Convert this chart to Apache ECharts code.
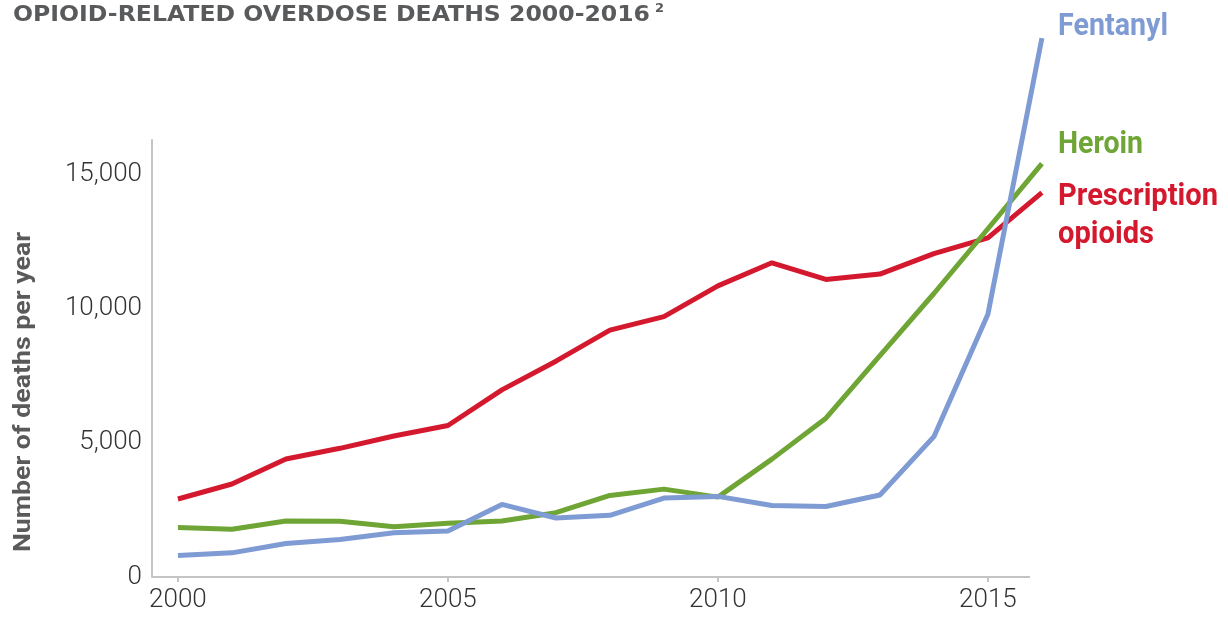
<!DOCTYPE html>
<html>
<head>
<meta charset="utf-8">
<script src="https://cdn.jsdelivr.net/npm/echarts@6/dist/echarts.min.js"></script>
<style>
html,body{margin:0;padding:0;background:#fff;}
#c{width:1228px;height:618px;}
</style>
</head>
<body>
<div id="c"></div>
<script>
var years = [2000,2001,2002,2003,2004,2005,2006,2007,2008,2009,2010,2011,2012,2013,2014,2015,2016];
var prescription = [2910,3470,4400,4800,5260,5650,6980,8050,9210,9710,10860,11720,11100,11300,12060,12650,14340];
var heroin = [1842,1779,2089,2080,1878,2009,2088,2399,3041,3278,2980,4397,5925,8257,10574,12989,15420];
var fentanyl = [800,900,1250,1400,1650,1720,2707,2200,2300,2946,3007,2666,2628,3060,5235,9800,20100];
var xTicks = [2000,2005,2010,2015];
var yTicks = [0,5000,10000,15000];
var seriesNames = ['Prescription opioids','Heroin','Fentanyl'];
var xAxisStart = 1999.52, xAxisEnd = 2015.78;

function pairs(vals){ return years.map(function(y,i){ return [y, vals[i]]; }); }

function measure(text, font){
  var cv = document.createElement('canvas').getContext('2d');
  cv.font = font; return cv.measureText(text).width;
}

var chart = echarts.init(document.getElementById('c'));
var titleFont = 'bold 21px "DejaVu Sans"';
var titleText = 'OPIOID-RELATED OVERDOSE DEATHS 2000-2016';
var titleScale = 637 / measure(titleText, titleFont);
var yNameFont = 'bold 24px Roboto';
var yNameText = 'Number of deaths per year';
var yNameScale = 320 / measure(yNameText, yNameFont);
var lblFont = 'bold 32px Roboto';
function sc(t, w){ return w / measure(t, lblFont); }

var blue = '#7f9bd3', green = '#6fa535', red = '#d4192e', axisGray = '#c4c4c4';

chart.setOption({
  animation: false,
  grid: {left:152, right:175.3, top:140, bottom:41},
  xAxis: {
    type:'value', min:xAxisStart, max:2016.2,
    axisLine:{show:false},
    axisTick:{show:true, customValues:xTicks, length:5, lineStyle:{color:axisGray, width:2}},
    axisLabel:{customValues:xTicks, color:'#333', fontFamily:'Roboto', fontWeight:300, fontSize:26, margin:10,
      formatter:function(v){return String(v);}},
    splitLine:{show:false}
  },
  yAxis: {
    type:'value', min:0, max:16300,
    axisLine:{show:true, lineStyle:{color:axisGray, width:2}},
    axisTick:{show:false},
    axisLabel:{customValues:yTicks, color:'#333', fontFamily:'Roboto', fontWeight:300, fontSize:26, margin:10,
      formatter:function(v){return v.toLocaleString('en-US');}},
    splitLine:{show:false}
  },
  series: [
    {name:seriesNames[0], type:'line', data:pairs(prescription), showSymbol:false, clip:false, z:2,
     lineStyle:{color:red, width:5}, itemStyle:{color:red},
     markLine:{silent:true, symbol:['none','none'], label:{show:false}, z:1,
       lineStyle:{color:axisGray, width:2, type:'solid'},
       data:[[{coord:[xAxisStart,0]},{coord:[xAxisEnd,0]}]]}},
    {name:seriesNames[1], type:'line', data:pairs(heroin), showSymbol:false, clip:false, z:3,
     lineStyle:{color:green, width:5}, itemStyle:{color:green}},
    {name:seriesNames[2], type:'line', data:pairs(fentanyl), showSymbol:false, clip:false, z:4,
     lineStyle:{color:blue, width:5}, itemStyle:{color:blue}}
  ],
  graphic: [
    {type:'text', x:13, y:16, scaleX:titleScale, style:{text:titleText, font:titleFont, fill:'#595a5c', textAlign:'left', verticalAlign:'middle'}},
    {type:'text', x:655, y:9, style:{text:'2', font:'bold 13px "DejaVu Sans"', fill:'#595a5c', textAlign:'left', verticalAlign:'middle'}},
    {type:'text', x:24, y:392, rotation:Math.PI/2, scaleX:yNameScale, style:{text:yNameText, font:yNameFont, fill:'#5a5a5a', textAlign:'center', verticalAlign:'middle'}},
    {type:'text', x:1058, y:27, scaleX:sc('Fentanyl',110), style:{text:'Fentanyl', font:lblFont, fill:blue, textAlign:'left', verticalAlign:'middle'}},
    {type:'text', x:1058, y:145, scaleX:sc('Heroin',85), style:{text:'Heroin', font:lblFont, fill:green, textAlign:'left', verticalAlign:'middle'}},
    {type:'text', x:1058, y:197, scaleX:sc('Prescription',160), style:{text:'Prescription', font:lblFont, fill:red, textAlign:'left', verticalAlign:'middle'}},
    {type:'text', x:1058, y:235, scaleX:sc('Prescription',160), style:{text:'opioids', font:lblFont, fill:red, textAlign:'left', verticalAlign:'middle'}}
  ]
});
</script>
</body>
</html>
